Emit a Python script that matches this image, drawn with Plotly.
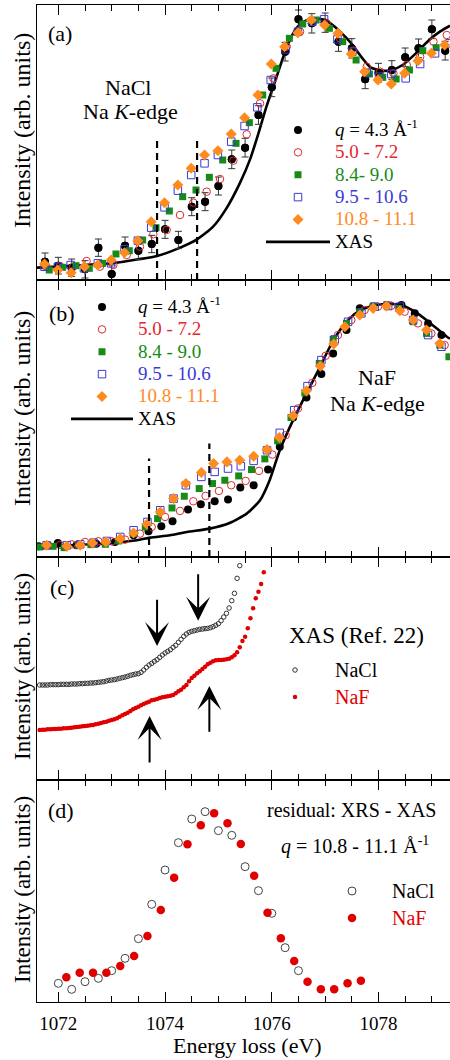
import plotly.graph_objects as go

FONT = "Liberation Serif"
RED = "#e0282e"
GREEN = "#178a17"
BLUE = "#3a3ad8"
ORANGE = "#ff8a1e"
CRED = "#e00000"

# ---------------- panel (a): NaCl ----------------
xas_a_e = [1071.6, 1072.0, 1072.5, 1073.0, 1073.5, 1073.85, 1074.25, 1074.6, 1074.9, 1075.15, 1075.4,
           1075.6, 1075.75, 1075.9, 1076.06, 1076.24, 1076.4, 1076.55, 1076.75, 1076.95, 1077.1, 1077.3,
           1077.5, 1077.7, 1077.85, 1078.05, 1078.25, 1078.45, 1078.7, 1078.95, 1079.15, 1079.34]
xas_a_i = [3.7, 4.0, 4.5, 5.0, 6.2, 7.2, 9.5, 12.2, 16.0, 21.5, 29.0,
           36.5, 44.0, 52.0, 59.5, 68.0, 74.0, 77.0, 78.5, 78.2, 77.0, 74.2,
           70.8, 66.5, 63.8, 62.8, 63.0, 64.5, 68.0, 72.0, 74.5, 76.3]

black_a_e = [1071.75, 1072.0, 1072.25, 1072.5, 1072.75, 1073.0, 1073.25, 1073.5, 1073.75, 1074.0, 1074.25,
             1074.5, 1074.75, 1075.0, 1075.25, 1075.5, 1075.75, 1076.0, 1076.25, 1076.5, 1076.75, 1077.0,
             1077.25, 1077.5, 1077.75, 1078.0, 1078.25, 1078.5, 1078.75, 1079.0, 1079.25]
black_a_i = [5.5, 4.3, 3.7, 3.2, 9.7, 1.8, 10.3, 8.8, 10.8, 15.2, 12.0,
             22.0, 23.5, 28.2, 36.2, 39.7, 49.5, 57.8, 68.5, 78.2, 77.0, 77.2,
             71.5, 69.5, 60.2, 62.2, 63.0, 66.8, 69.5, 75.2, 68.8]
black_a_err = [2.6, 2.5, 2.6, 2.6, 2.6, 2.7, 2.6, 2.6, 2.6, 2.7, 2.6,
               2.7, 2.7, 2.7, 2.8, 2.8, 2.8, 2.8, 2.8, 2.8, 2.9, 2.9,
               2.9, 2.9, 2.8, 2.8, 2.8, 2.8, 2.8, 2.8, 2.8]

red_a_e = [1071.78, 1072.03, 1072.28, 1072.53, 1072.78, 1073.03, 1073.28, 1073.53, 1073.78, 1074.03, 1074.28,
           1074.53, 1074.78, 1075.03, 1075.28, 1075.53, 1075.78, 1076.03, 1076.28, 1076.53, 1076.78, 1077.03,
           1077.28, 1077.53, 1077.78, 1078.03, 1078.28, 1078.53, 1078.78, 1079.03, 1079.28]
red_a_i = [4.0, 4.2, 4.0, 5.7, 4.0, 4.5, 7.5, 10.0, 13.7, 15.0, 19.5,
           23.2, 26.5, 30.3, 35.8, 43.7, 53.0, 60.5, 70.0, 74.5, 77.5, 77.0,
           72.5, 68.8, 64.0, 62.5, 62.0, 64.5, 67.0, 71.5, 73.5]

green_a_e = [1071.83, 1072.08, 1072.33, 1072.58, 1072.83, 1073.08, 1073.33, 1073.58, 1073.83, 1074.08,
             1074.33, 1074.58, 1074.83, 1075.08, 1075.33, 1075.58, 1075.83, 1076.08, 1076.33, 1076.58,
             1076.83, 1077.08, 1077.33, 1077.58, 1077.83, 1078.08, 1078.33, 1078.58, 1078.83, 1079.08]
green_a_i = [3.0, 3.8, 4.3, 3.5, 5.0, 7.8, 8.8, 12.0, 15.7, 20.7,
             25.0, 27.0, 30.8, 36.0, 41.0, 47.2, 55.5, 63.5, 72.5, 76.8,
             78.0, 75.5, 71.5, 66.0, 61.8, 60.8, 60.3, 63.0, 68.8, 69.7]

blue_a_e = [1071.74, 1071.99, 1072.23, 1072.48, 1072.74, 1072.99, 1073.24, 1073.49, 1073.74, 1073.99, 1074.24,
            1074.49, 1074.74, 1074.99, 1075.24, 1075.49, 1075.73, 1075.98, 1076.26, 1076.49, 1076.76, 1076.98,
            1077.23, 1077.51, 1077.78, 1078.01, 1078.24, 1078.51, 1078.78, 1079.06, 1079.33]
blue_a_i = [4.0, 4.0, 4.5, 3.5, 5.0, 5.0, 9.2, 11.8, 15.7, 21.8, 26.8,
            31.5, 35.0, 37.5, 41.5, 46.2, 51.8, 60.0, 69.2, 74.5, 77.5, 78.2,
            72.2, 68.5, 62.2, 61.0, 61.8, 60.5, 64.8, 68.0, 71.0]

orange_a_e = [1071.74, 1071.99, 1072.24, 1072.49, 1072.74, 1072.99, 1073.24, 1073.49, 1073.74, 1073.99, 1074.24,
              1074.49, 1074.74, 1074.99, 1075.24, 1075.49, 1075.74, 1075.99, 1076.24, 1076.49, 1076.74, 1076.99,
              1077.24, 1077.49, 1077.74, 1077.99, 1078.24, 1078.49, 1078.74, 1078.99, 1079.24]
orange_a_i = [4.8, 3.0, 2.2, 4.0, 4.5, 6.0, 8.2, 11.8, 17.5, 23.2, 28.5,
              33.5, 37.5, 38.8, 43.8, 48.7, 55.5, 64.8, 70.0, 74.2, 78.0, 76.5,
              74.0, 67.8, 62.5, 60.0, 58.8, 62.0, 65.8, 68.0, 70.5]

edges_a = [1073.85, 1074.6]
edges_a_top = [43.0, 43.0]

# ---------------- panel (b): NaF ----------------
xas_b_e = [1071.59, 1072.22, 1072.84, 1073.47, 1073.72, 1074.09, 1074.41, 1074.84, 1075.21, 1075.53, 1075.78,
           1075.96, 1076.15, 1076.4, 1076.65, 1076.9, 1077.09, 1077.28, 1077.46, 1077.65, 1077.9, 1078.15,
           1078.43, 1078.71, 1078.96, 1079.28, 1079.34]
xas_b_i = [2.5, 3.5, 4.0, 5.0, 5.8, 6.5, 7.5, 8.5, 10.2, 13.0, 17.0,
           23.0, 32.0, 41.0, 49.0, 56.8, 63.0, 68.0, 71.5, 73.8, 75.3, 75.8,
           75.5, 73.2, 70.2, 66.0, 65.4]

black_b_e = [1071.63, 1071.99, 1072.34, 1072.71, 1073.06, 1073.41, 1073.69, 1073.93, 1074.14, 1074.43, 1074.67,
             1074.93, 1075.18, 1075.41, 1075.66, 1075.93, 1076.15, 1076.4, 1076.65, 1076.93, 1077.15, 1077.4,
             1077.65, 1077.9, 1078.15, 1078.43, 1078.68, 1078.93, 1079.18]
black_b_i = [3.2, 4.2, 3.5, 4.0, 4.5, 6.5, 7.7, 9.2, 10.7, 14.2, 15.8,
             16.7, 17.2, 20.8, 21.5, 26.2, 33.0, 41.8, 47.8, 54.8, 61.0, 68.0,
             74.5, 75.0, 75.5, 75.5, 73.0, 70.0, 66.5]

red_b_e = [1071.81, 1072.03, 1072.25, 1072.5, 1072.75, 1073.0, 1073.25, 1073.53, 1073.75, 1074.0, 1074.28,
           1074.53, 1074.76, 1075.01, 1075.24, 1075.51, 1075.76, 1076.01, 1076.26, 1076.49, 1076.76, 1077.01,
           1077.24, 1077.49, 1077.74, 1077.99, 1078.24, 1078.49, 1078.74, 1078.99, 1079.24]
red_b_i = [3.5, 3.6, 3.8, 4.5, 4.7, 4.7, 5.2, 7.0, 9.0, 12.0, 13.8,
           16.7, 18.3, 19.8, 21.5, 22.8, 25.8, 30.7, 36.5, 44.5, 52.2, 60.3,
           66.5, 71.0, 74.0, 75.0, 75.3, 73.5, 70.0, 67.0, 63.5]

green_b_e = [1071.65, 1071.9, 1072.11, 1072.38, 1072.61, 1072.88, 1073.13, 1073.41, 1073.63, 1073.86, 1074.13,
             1074.36, 1074.64, 1074.89, 1075.12, 1075.38, 1075.62, 1075.87, 1076.11, 1076.36, 1076.62, 1076.89,
             1077.15, 1077.4, 1077.65, 1077.9, 1078.15, 1078.38, 1078.65, 1078.9, 1079.15, 1079.32]
green_b_i = [3.0, 3.2, 2.8, 3.5, 3.7, 3.8, 4.8, 7.0, 9.0, 11.5, 14.7,
             18.2, 20.5, 22.0, 23.0, 24.3, 26.2, 29.4, 34.8, 41.8, 49.2, 58.0,
             65.2, 70.0, 73.5, 75.2, 75.5, 74.5, 70.5, 67.0, 63.5, 60.0]

blue_b_e = [1071.78, 1072.16, 1072.41, 1072.66, 1072.91, 1073.16, 1073.41, 1073.67, 1073.91, 1074.16, 1074.39,
            1074.68, 1074.93, 1075.18, 1075.42, 1075.66, 1075.91, 1076.15, 1076.42, 1076.67, 1076.93, 1077.18,
            1077.43, 1077.68, 1077.93, 1078.18, 1078.4, 1078.65, 1078.93, 1079.18]
blue_b_i = [3.5, 3.5, 3.8, 4.3, 4.8, 6.0, 8.0, 10.5, 14.0, 17.5, 21.5,
            24.0, 25.5, 26.5, 27.2, 28.8, 32.0, 37.2, 44.0, 51.2, 59.0, 65.2,
            70.5, 73.0, 75.0, 75.2, 75.0, 71.0, 66.5, 63.0]

orange_b_e = [1071.78, 1072.16, 1072.41, 1072.64, 1072.89, 1073.16, 1073.41, 1073.66, 1073.91, 1074.16, 1074.39,
              1074.68, 1074.91, 1075.16, 1075.4, 1075.66, 1075.91, 1076.14, 1076.4, 1076.65, 1076.91, 1077.16,
              1077.37, 1077.65, 1077.9, 1078.15, 1078.4, 1078.65, 1078.9, 1079.15]
orange_b_i = [3.5, 3.2, 3.5, 4.2, 4.5, 5.5, 7.2, 9.8, 13.5, 17.5, 22.0,
              25.3, 28.0, 28.5, 29.0, 30.2, 32.2, 35.8, 42.3, 49.8, 57.2, 63.8,
              69.0, 72.5, 74.5, 75.2, 73.8, 71.0, 68.0, 64.0]

edges_b = [1073.7, 1074.83]
edges_b_top = [29.5, 34.0]

# ---------------- panel (c): XAS (Ref. 22) ----------------
nacl_c_e = [1071.65, 1071.70, 1071.75, 1071.80, 1071.85, 1071.90, 1071.95, 1072.00, 1072.05, 1072.10,
            1072.15, 1072.20, 1072.25, 1072.30, 1072.35, 1072.40, 1072.45, 1072.50, 1072.55, 1072.60,
            1072.65, 1072.70, 1072.75, 1072.80, 1072.85, 1072.90, 1072.95, 1073.00, 1073.05, 1073.10,
            1073.15, 1073.20, 1073.25, 1073.30, 1073.35, 1073.40, 1073.45, 1073.50, 1073.55, 1073.60,
            1073.65, 1073.70, 1073.75, 1073.80, 1073.85, 1073.90, 1073.95, 1074.00, 1074.05, 1074.10,
            1074.15, 1074.20, 1074.25, 1074.30, 1074.35, 1074.40, 1074.45, 1074.50, 1074.55, 1074.60,
            1074.65, 1074.70, 1074.75, 1074.80, 1074.85, 1074.90, 1074.95, 1075.00, 1075.05, 1075.10,
            1075.15, 1075.20, 1075.25, 1075.30, 1075.35, 1075.40]
nacl_c_i = [28.5, 28.5, 28.5, 28.5, 28.6, 28.6, 28.6, 28.6, 28.7, 28.7,
            28.7, 28.7, 28.8, 28.8, 28.8, 28.9, 28.9, 29.0, 29.0, 29.1,
            29.1, 29.2, 29.3, 29.4, 29.5, 29.7, 29.9, 30.0, 30.1, 30.3,
            30.5, 30.7, 30.9, 31.1, 31.4, 31.6, 31.8, 31.9, 32.3, 33.0,
            33.8, 34.5, 35.0, 35.6, 36.1, 36.8, 37.5, 38.1, 38.6, 39.1,
            39.8, 40.4, 41.3, 42.2, 43.1, 43.8, 44.3, 44.6, 44.8, 45.0,
            45.2, 45.3, 45.4, 45.5, 45.7, 46.0, 46.4, 46.9, 47.8, 48.9,
            50.0, 51.6, 53.8, 56.0, 60.5, 64.3]

naf_c_e = [1071.65, 1071.70, 1071.75, 1071.80, 1071.85, 1071.90, 1071.95, 1072.00, 1072.05, 1072.10,
           1072.15, 1072.20, 1072.25, 1072.30, 1072.35, 1072.40, 1072.45, 1072.50, 1072.55, 1072.60,
           1072.65, 1072.70, 1072.75, 1072.80, 1072.85, 1072.90, 1072.95, 1073.00, 1073.05, 1073.10,
           1073.15, 1073.20, 1073.25, 1073.30, 1073.35, 1073.40, 1073.45, 1073.50, 1073.55, 1073.60,
           1073.65, 1073.70, 1073.75, 1073.80, 1073.85, 1073.90, 1073.95, 1074.00, 1074.05, 1074.10,
           1074.15, 1074.20, 1074.25, 1074.30, 1074.35, 1074.40, 1074.45, 1074.50, 1074.55, 1074.60,
           1074.65, 1074.70, 1074.75, 1074.80, 1074.85, 1074.90, 1074.95, 1075.00, 1075.05, 1075.10,
           1075.15, 1075.20, 1075.25, 1075.30, 1075.35, 1075.40, 1075.45, 1075.50, 1075.55, 1075.60,
           1075.65, 1075.70, 1075.75, 1075.80, 1075.85]
naf_c_i = [15.0, 15.1, 15.1, 15.2, 15.2, 15.3, 15.3, 15.4, 15.4, 15.5,
           15.5, 15.6, 15.7, 15.8, 15.9, 16.0, 16.1, 16.2, 16.3, 16.4,
           16.5, 16.7, 16.9, 17.1, 17.3, 17.5, 17.8, 18.0, 18.2, 18.5,
           19.0, 19.4, 19.8, 20.2, 20.7, 21.2, 21.6, 22.0, 22.4, 22.8,
           23.2, 23.5, 23.9, 24.1, 24.3, 24.6, 24.8, 25.0, 25.1, 25.3,
           25.5, 26.0, 26.6, 27.1, 27.8, 28.5, 29.6, 30.6, 31.3, 32.0,
           32.6, 33.3, 34.0, 34.7, 35.2, 35.6, 35.9, 36.0, 36.0, 36.1,
           36.2, 36.4, 36.8, 37.4, 38.3, 39.8, 41.7, 43.0, 45.5, 48.5,
           51.5, 54.5, 56.5, 58.8, 62.3]

arrows_c_x = [1073.85, 1074.62, 1073.71, 1074.83]
arrows_c_tail = [54.5, 62.2, 4.8, 14.0]
arrows_c_tip = [40.2, 47.8, 19.2, 28.2]

# ---------------- panel (d): residual XRS - XAS ----------------
nacl_d_e = [1072.0, 1072.25, 1072.5, 1072.75, 1073.0, 1073.25, 1073.5, 1073.75, 1074.0, 1074.25,
            1074.5, 1074.75, 1075.0, 1075.25, 1075.5, 1075.75, 1076.0, 1076.25, 1076.5]
nacl_d_i = [5.6, 3.8, 6.1, 7.1, 9.4, 13.1, 19.0, 29.3, 39.6, 47.8,
            54.9, 57.1, 51.4, 50.0, 40.6, 33.4, 26.6, 16.3, 9.4]
naf_d_e = [1072.15, 1072.4, 1072.65, 1072.9, 1073.16, 1073.42, 1073.67, 1073.92, 1074.17, 1074.42,
           1074.67, 1074.92, 1075.17, 1075.42, 1075.67, 1075.92, 1076.17, 1076.42, 1076.67, 1076.92,
           1077.17, 1077.42, 1077.67]
naf_d_i = [7.4, 8.8, 8.8, 8.8, 10.8, 13.8, 19.8, 27.6, 37.3, 47.3,
           53.0, 56.6, 53.6, 47.4, 37.9, 26.8, 19.1, 12.3, 6.1, 3.8,
           3.8, 5.6, 6.4]

x_ticks = [1072, 1074, 1076, 1078]

# ---------------- geometry helpers (pixels -> paper) ----------------
W, H = 450, 1060
ML, MR, MT, MB = 37, 0, 5, 58
PW, PH = W - ML - MR, H - MT - MB


def px(xp):
    return (xp - ML) / PW


def py(yp):
    return (H - MB - yp) / PH


def col(t, c, size):
    return f"<span style='color:{c};font-size:{size}px'>{t}</span>"


fig = go.Figure()

LEG_AB_TXT = 19
q_lbl = "<i>q</i> = 4.3 Å<sup>-1</sup>"

panels_ab = [
    ("legend2", "x", "y", xas_a_e, xas_a_i, black_a_e, black_a_i, red_a_e, red_a_i, green_a_e, green_a_i,
     blue_a_e, blue_a_i, orange_a_e, orange_a_i, "8.4- 9.0"),
    ("legend3", "x2", "y2", xas_b_e, xas_b_i, black_b_e, black_b_i, red_b_e, red_b_i, green_b_e, green_b_i,
     blue_b_e, blue_b_i, orange_b_e, orange_b_i, "8.4 - 9.0"),
]

for (lg, xa, ya, xe, xi, be, bi, re_, ri, ge, gi, ble, bli, oe, oi, glbl) in panels_ab:
    fig.add_trace(go.Scatter(x=xe, y=xi, xaxis=xa, yaxis=ya, mode="lines", name=col("XAS", "black", LEG_AB_TXT),
                             line=dict(color="black", width=2.6, shape="spline", smoothing=0.6),
                             legend=lg, legendrank=2000))
    if lg == "legend2":
        fig.add_trace(go.Scatter(x=be, y=bi, xaxis=xa, yaxis=ya, mode="markers", showlegend=False,
                                 marker=dict(symbol="circle", size=8, color="black"),
                                 error_y=dict(type="data", array=black_a_err, color="#333333",
                                              thickness=1, width=3.5)))
    fig.add_trace(go.Scatter(x=be, y=bi, xaxis=xa, yaxis=ya, mode="markers", name=col(q_lbl, "black", LEG_AB_TXT),
                             marker=dict(symbol="circle", size=8, color="black"), legend=lg, legendrank=1000))
    fig.add_trace(go.Scatter(x=re_, y=ri, xaxis=xa, yaxis=ya, mode="markers",
                             name=col("5.0 - 7.2", RED, LEG_AB_TXT),
                             marker=dict(symbol="circle-open", size=7.5, color=RED, line=dict(width=1)),
                             legend=lg, legendrank=1001))
    fig.add_trace(go.Scatter(x=ge, y=gi, xaxis=xa, yaxis=ya, mode="markers", name=col(glbl, GREEN, LEG_AB_TXT),
                             marker=dict(symbol="square", size=7, color=GREEN), legend=lg, legendrank=1002))
    fig.add_trace(go.Scatter(x=ble, y=bli, xaxis=xa, yaxis=ya, mode="markers",
                             name=col("9.5 - 10.6", BLUE, LEG_AB_TXT),
                             marker=dict(symbol="square-open", size=7.5, color=BLUE, line=dict(width=1)),
                             legend=lg, legendrank=1003))
    fig.add_trace(go.Scatter(x=oe, y=oi, xaxis=xa, yaxis=ya, mode="markers",
                             name=col("10.8 - 11.1", ORANGE, LEG_AB_TXT),
                             marker=dict(symbol="diamond", size=8.5, color=ORANGE), legend=lg, legendrank=1004))

# panel (c)
fig.add_trace(go.Scatter(x=nacl_c_e, y=nacl_c_i, xaxis="x3", yaxis="y3", mode="markers",
                         name=col("NaCl", "black", 20), legend="legend4",
                         marker=dict(symbol="circle-open", size=4.5, color="#333333", line=dict(width=1))))
fig.add_trace(go.Scatter(x=naf_c_e, y=naf_c_i, xaxis="x3", yaxis="y3", mode="markers",
                         name=col("NaF", CRED, 20), legend="legend4",
                         marker=dict(symbol="circle", size=4.5, color=CRED)))
# panel (d)
fig.add_trace(go.Scatter(x=nacl_d_e, y=nacl_d_i, xaxis="x4", yaxis="y4", mode="markers",
                         name=col("NaCl", "black", 20), legend="legend5",
                         marker=dict(symbol="circle-open", size=8, color="#444444", line=dict(width=1))))
fig.add_trace(go.Scatter(x=naf_d_e, y=naf_d_i, xaxis="x4", yaxis="y4", mode="markers",
                         name=col("NaF", CRED, 20), legend="legend5",
                         marker=dict(symbol="circle", size=8.5, color=CRED)))

# dashed edge markers
for xs, tops, xa, ya in [(edges_a, edges_a_top, "x", "y"), (edges_b, edges_b_top, "x2", "y2")]:
    for xv, tv in zip(xs, tops):
        fig.add_shape(type="line", xref=xa, yref=ya, x0=xv, x1=xv, y0=0, y1=tv,
                      line=dict(color="black", width=2.2, dash="7px,5px"))

# arrows in panel (c)
for xv, tail, tip in zip(arrows_c_x, arrows_c_tail, arrows_c_tip):
    fig.add_annotation(x=xv, y=tip, ax=xv, ay=tail, xref="x3", yref="y3", axref="x3", ayref="y3",
                       text="", showarrow=True, arrowhead=3, arrowsize=2.0, arrowwidth=2, arrowcolor="black")

# ---------------- axes ----------------
domains = {"a": [py(280), 1.0], "b": [py(557), py(280)], "c": [py(780), py(557)], "d": [0.0, py(780)]}
yranges = {"a": [0, 82.5], "b": [0, 83.0], "c": [0, 66.9], "d": [0, 66.6]}
names = [("a", "xaxis", "yaxis", "y", "x"), ("b", "xaxis2", "yaxis2", "y2", "x2"),
         ("c", "xaxis3", "yaxis3", "y3", "x3"), ("d", "xaxis4", "yaxis4", "y4", "x4")]
for pan, xn, yn, yref, xref in names:
    fig.layout[xn] = dict(
        domain=[0, 1], anchor=yref, range=[1071.6, 1079.34], showline=True, linecolor="black", linewidth=1,
        mirror="allticks", ticks="inside", ticklen=10, tickwidth=1, tickcolor="black",
        tickmode="array", tickvals=x_ticks, ticktext=[str(t) for t in x_ticks],
        minor=dict(dtick=0.5, tick0=1072, ticks="inside", ticklen=6, tickwidth=1, tickcolor="black", showgrid=False),
        showgrid=False, zeroline=False, showticklabels=(pan == "d"), fixedrange=True,
        tickfont=dict(family=FONT, size=19, color="black"), ticklabelstandoff=4,
    )
    fig.layout[yn] = dict(domain=domains[pan], anchor=xref, range=yranges[pan], showline=True, linecolor="black",
                          linewidth=1, ticks="", showticklabels=False, showgrid=False, zeroline=False,
                          fixedrange=True)


# legends: (symbol centre px x, first item centre px y, itemwidth, legend font size -> row pitch)
def legend_box(sx, sy, iw, fs):
    left = sx - (iw + 10) / 2
    h = 1.3 * fs + 3
    return dict(x=px(left), y=py(sy - h / 2 - 5), xanchor="left", yanchor="top",
                bgcolor="rgba(0,0,0,0)", borderwidth=0, itemwidth=iw, tracegroupgap=0,
                font=dict(family=FONT, size=fs, color="black"), traceorder="normal",
                itemclick=False, itemdoubleclick=False)


# ---------------- text ----------------
def txt(t, xp, yp, size, xanchor="center", color="black", angle=0):
    fig.add_annotation(text=t, x=px(xp), y=py(yp), xref="paper", yref="paper", showarrow=False,
                       xanchor=xanchor, yanchor="middle", textangle=angle,
                       font=dict(family=FONT, size=size, color=color))


for yc, fs in [(131, 24), (409, 24), (667, 23), (890, 23)]:
    txt("Intensity (arb. units)", 22, yc, fs, angle=-90)
txt("(a)", 60, 33, 22)
txt("NaCl", 128, 88, 22)
txt("Na <i>K</i>-edge", 130, 111, 22)
txt("(b)", 62, 313, 22)
txt("NaF", 377, 377, 22)
txt("Na <i>K</i>-edge", 377, 403, 22)
txt("(c)", 62, 587, 22)
txt("XAS (Ref. 22)", 287, 635, 23, xanchor="left")
txt("(d)", 61, 810, 22)
txt("residual: XRS - XAS", 438, 810, 20, xanchor="right")
txt("<i>q</i> = 10.8 - 11.1 Å<sup>-1</sup>", 431, 845, 20, xanchor="right")
txt("Energy loss (eV)", 247, 1045, 22)

fig.update_layout(
    width=W, height=H, margin=dict(l=ML, r=MR, t=MT, b=MB, autoexpand=False),
    paper_bgcolor="white", plot_bgcolor="white", template="none",
    font=dict(family=FONT, size=19, color="black"),
    showlegend=True,
    legend=dict(visible=False),
    legend2=legend_box(298, 130, 64, 14.9),
    legend3=legend_box(102, 307, 62, 14.9),
    legend4=legend_box(295, 670, 70, 18.5),
    legend5=legend_box(352, 891, 70, 18.5),
)

fig.write_html("out.html")
